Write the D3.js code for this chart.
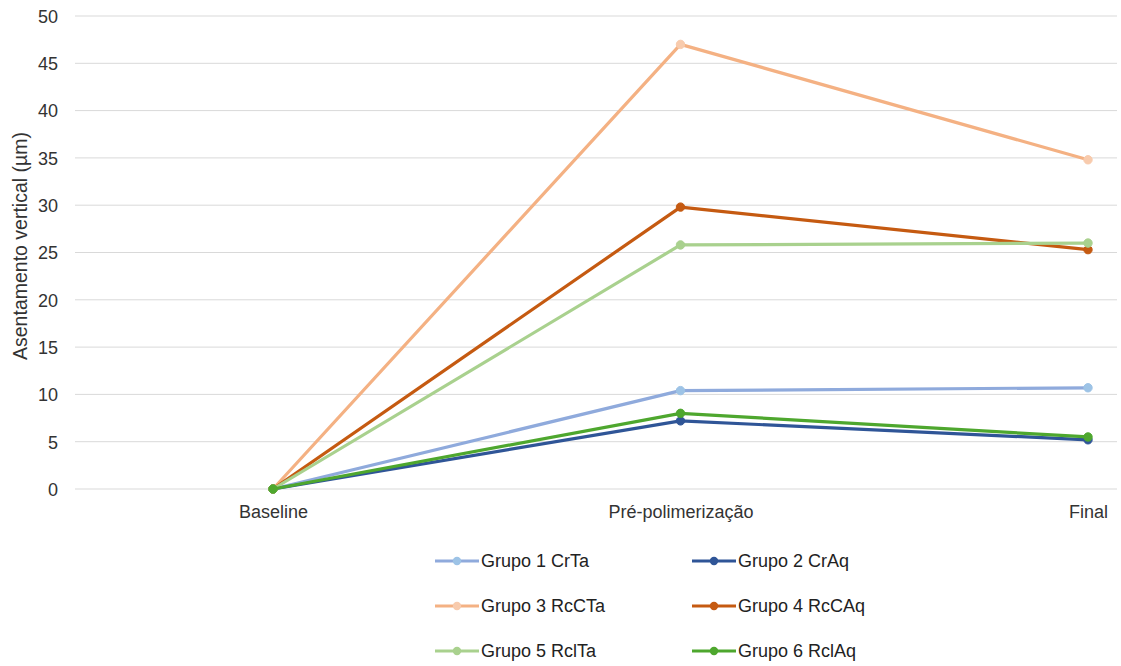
<!DOCTYPE html>
<html><head><meta charset="utf-8">
<script src="https://cdn.jsdelivr.net/npm/d3@7"></script>
<style>body{margin:0;background:#fff;} svg{display:block;font-family:"Liberation Sans",Arial,Helvetica,sans-serif;}</style>
</head><body>
<svg id="c" width="1121" height="666"></svg>
<script>
const categories = ["Baseline", "Pré-polimerização", "Final"];
const seriesNames = ["Grupo 1 CrTa","Grupo 2 CrAq","Grupo 3 RcCTa","Grupo 4 RcCAq","Grupo 5 RclTa","Grupo 6 RclAq"];
const g1 = [0, 10.4, 10.7];
const g2 = [0, 7.2, 5.2];
const g3 = [0, 47.0, 34.8];
const g4 = [0, 29.8, 25.3];
const g5 = [0, 25.8, 26.0];
const g6 = [0, 8.0, 5.5];
const yTicks = [0,5,10,15,20,25,30,35,40,45,50];
const lineColors = ["#8faadc","#2f5597","#f4b183","#c55a11","#a9d18e","#4ea72e"];
const markerColors = ["#9dc3e6","#2f5597","#f8cbad","#c55a11","#a9d18e","#4ea72e"];
const values = [g1,g2,g3,g4,g5,g6];

const svg = d3.select("#c");
const x = d3.scalePoint().domain(categories).range([273, 1088]);
const y = d3.scaleLinear().domain([0,50]).range([489, 16]);
const FONT = "'Liberation Sans',Arial,sans-serif";

// gridlines
svg.append("g").selectAll("line").data(yTicks).join("line")
  .attr("x1", 75).attr("x2", 1117)
  .attr("y1", d=>y(d)).attr("y2", d=>y(d))
  .attr("stroke", "#d9d9d9").attr("stroke-width", 1);

// y axis labels
const yAxis = d3.axisLeft(y).tickValues(yTicks).tickSize(0).tickPadding(0);
const ya = svg.append("g").attr("transform","translate(58,0)").call(yAxis);
ya.select(".domain").remove();
ya.selectAll("text").attr("font-size", 18).attr("fill","#333").attr("font-family",FONT).attr("dy","0.35em");

// x axis labels
const xAxis = d3.axisBottom(x).tickSize(0).tickPadding(0);
const xa = svg.append("g").attr("transform","translate(0,505)").call(xAxis);
xa.select(".domain").remove();
xa.selectAll("text").attr("font-size", 18).attr("fill","#333").attr("font-family",FONT).attr("dy","0.71em");

// y title
svg.append("text").attr("transform","translate(27,246) rotate(-90)")
  .attr("text-anchor","middle").attr("font-size",19.5).attr("fill","#333").attr("font-family",FONT)
  .text("Asentamento vertical (µm)");

const line = d3.line().x((d,i)=>x(categories[i])).y(d=>y(d));
values.forEach((vals,k)=>{
  const g = svg.append("g");
  g.append("path").datum(vals).attr("d", line).attr("fill","none")
    .attr("stroke", lineColors[k]).attr("stroke-width", 3.2).attr("stroke-linejoin","round");
  g.selectAll("circle").data(vals).join("circle")
    .attr("cx",(d,i)=>x(categories[i])).attr("cy",d=>y(d)).attr("r",4.2)
    .attr("fill", markerColors[k]).attr("stroke", markerColors[k]);
});

// legend
const legX = [435, 692], legY = [561, 606, 651];
seriesNames.forEach((name,k)=>{
  const cx = legX[k%2], cy = legY[Math.floor(k/2)];
  const lg = svg.append("g");
  lg.append("line").attr("x1",cx).attr("x2",cx+44).attr("y1",cy).attr("y2",cy)
    .attr("stroke",lineColors[k]).attr("stroke-width",3.2);
  lg.append("circle").attr("cx",cx+22).attr("cy",cy).attr("r",4.2).attr("fill",markerColors[k]);
  lg.append("text").attr("x",cx+46).attr("y",cy).attr("dy","0.35em")
    .attr("font-size",18).attr("fill","#222").attr("font-family",FONT).text(name);
});
</script>
</body></html>
